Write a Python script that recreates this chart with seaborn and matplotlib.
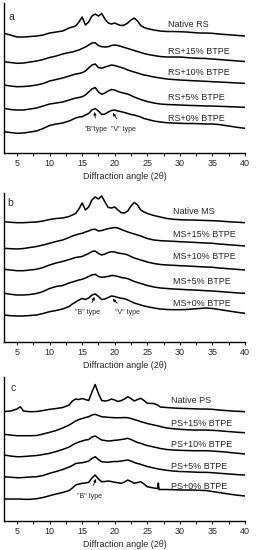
"""Stacked XRD patterns of RS, MS and PS starches with BTPE (three panels)."""

import matplotlib
matplotlib.use("Agg")
import matplotlib.pyplot as plt
import seaborn as sns

# 2-theta grid for panels a and b
two_theta = [3, 4, 5, 6, 7, 8, 9, 10, 11, 12, 13, 13.5, 14, 14.5, 15, 15.5, 16, 16.5,
             17, 17.5, 18, 18.5, 19, 19.5, 20, 20.5, 21, 21.5, 22, 22.5, 23, 23.5, 24,
             24.5, 25, 26, 27, 28, 29, 30, 31, 32, 33, 34, 35, 36, 37, 38, 39, 40]

# panel c needs a few extra points (5.5 deg peak, spike near 26.7 deg)
two_theta_c = [3, 4, 5, 5.5, 6, 7, 8, 9, 10, 11, 12, 13, 13.5, 14, 14.5, 15, 15.5, 16,
               16.5, 17, 17.5, 18, 18.5, 19, 19.5, 20, 20.5, 21, 21.5, 22, 22.5, 23,
               23.5, 24, 24.5, 25, 26, 26.6, 26.7, 26.8, 27, 28, 29, 30, 31, 32, 33, 34,
               35, 36, 37, 38, 39, 40]

# ---- panel a: RS (stacked intensities, a.u.)
rs_native = [119.7, 118, 116, 116, 116.5, 117, 118, 120, 121, 122, 125, 126, 127, 131,
             136, 128, 131, 137, 139, 137, 139.5, 134, 130, 129, 130, 128.5, 127.5, 128,
             130, 133, 135, 132, 127.5, 125.5, 124.5, 123, 122, 121.5, 121.5, 121.3, 121,
             120.5, 120, 120, 119.7, 119, 118.5, 118, 117.5, 117]
rs_15 = [91.3, 90.5, 89.7, 90, 91, 92, 93.5, 95.5, 97, 99, 100.5, 101, 102, 103, 104.5,
         106, 108, 110, 110.3, 107.5, 106.3, 106, 106.3, 107.5, 108, 107.5, 106.5, 105.5,
         104.5, 103.5, 102.5, 101.5, 100.5, 99.5, 98.7, 97.5, 96.5, 96, 96, 96, 95.5, 95,
         94.7, 94.5, 94, 93.5, 93, 92.5, 92, 91.5]
rs_10 = [68, 67, 66.3, 66.5, 67, 68, 69.5, 72, 73.5, 75, 77, 78, 79, 79.5, 80.3, 82, 85,
         88, 89, 85.5, 84.7, 86, 87, 88, 87.5, 86.5, 85.5, 84.5, 83, 82, 81, 80, 79, 78,
         77.5, 76, 75, 74, 73.5, 73, 72.7, 72.3, 72, 71.7, 71.3, 71, 70.7, 70.3, 70, 69.7]
rs_5 = [44.7, 43.5, 43, 43, 44, 45, 47, 49, 50, 51, 53, 54, 55, 55.5, 56.3, 58, 61, 64,
        65.5, 61, 58.7, 60, 62, 63.5, 63, 61.5, 60.5, 59.7, 59, 57.5, 56, 54.7, 53.5,
        52.5, 51.5, 50, 49, 48.5, 48.3, 48, 47.7, 47.5, 47.3, 47, 47, 46.7, 46.5, 46.2,
        46, 45.7]
rs_0 = [21.3, 20.5, 19.7, 20, 21, 22, 24.5, 27.5, 29, 30, 32, 33.5, 35, 36, 36.3, 38,
        39.5, 43, 44.5, 42, 38.5, 39, 41, 42.5, 43, 42, 41.3, 40.5, 39.5, 38.5, 38, 37,
        36, 34.5, 33.7, 32, 31, 30.3, 30, 29.7, 29.5, 29.5, 29.3, 29, 29, 28.5, 27.5,
        26.5, 25.5, 24.7]

# ---- panel b: MS
ms_native = [120.3, 119.7, 119.3, 119.3, 119.7, 120, 121, 122.5, 123.5, 124, 125.5, 127,
             128.5, 133, 139, 132, 135, 142, 145, 143, 146, 140, 134.5, 134, 135, 132,
             129.3, 129, 131, 136, 139.5, 137, 132, 130, 128.5, 126.5, 125, 123.5, 122.7,
             122.3, 122, 122, 121.7, 121.5, 121.3, 121, 120.5, 120, 119.7, 119.3]
ms_15 = [93.7, 93.3, 93, 93.5, 94.5, 95.5, 97, 98.7, 100.5, 102, 104.5, 106, 107, 108,
         108.7, 110, 111, 112.5, 112.7, 111, 111.5, 112.5, 113.3, 114, 114.5, 114, 112.5,
         111.3, 110, 109, 108, 107, 106, 104.7, 103.5, 102, 101.3, 101, 100.7, 100.3, 100,
         99.7, 99.3, 99, 98.7, 98, 97.5, 97, 96.5, 96]
ms_10 = [72.7, 72, 71.3, 71.3, 72, 72.7, 74.5, 77, 79, 80.5, 82.5, 83.5, 84.5, 85, 85.5,
         87, 88.5, 90.5, 91, 88.5, 87, 88, 89.5, 90.3, 90, 89, 88.5, 88, 87, 85.5, 84, 83,
         82, 81, 80, 78.5, 77.5, 77, 76.7, 76.3, 76, 75.7, 75.3, 75, 74.7, 74, 73.5, 73,
         72.5, 72]
ms_5 = [48.7, 47.7, 47, 47, 47.5, 48.5, 50.5, 53.5, 55.5, 56.5, 59, 60, 61, 62, 62.7, 64,
        65.5, 67, 67.7, 65.5, 64.7, 65, 65.7, 66.5, 66.3, 65.5, 64.5, 64, 63.3, 62, 60.5,
        59.5, 58.5, 57.5, 56.5, 55, 54, 53.5, 53, 52.7, 52.3, 52, 51.7, 51.3, 51, 50.5,
        50, 49.5, 49, 48.7]
ms_0 = [27, 26.3, 26, 26, 26.5, 27, 28.5, 30.3, 31.5, 33, 35.5, 38, 40, 42, 43.5, 42.5,
        44, 47, 48, 45.5, 42.5, 43, 44.5, 46, 45.5, 44.5, 43.7, 43.3, 42, 40.5, 39, 38,
        37, 36, 35.3, 34, 33, 32.5, 32.3, 32.3, 32.5, 33, 33.5, 34, 33.5, 32.5, 31.5,
        30.5, 29.5, 28.7]

# ---- panel c: PS
ps_native = [109.5, 110, 112, 114.3, 110, 109.3, 109.5, 110.5, 111.7, 112.5, 113.5, 116,
             120, 122, 121.5, 122.5, 121.5, 120.5, 129, 136.5, 127.5, 120.5, 120, 120.5,
             122, 121, 119.5, 120.5, 122, 124.3, 122.5, 120, 121.5, 122.7, 120.5, 117.7,
             117.5, 116, 115.5, 115, 114, 113.5, 113, 112.7, 112.5, 112.3, 112, 112,
             111.7, 111, 110.5, 110, 109.7, 109.3]
ps_15 = [86.7, 86, 85.3, 85.3, 85.3, 85.3, 85.5, 87, 88.7, 90.5, 93, 96, 98, 100, 101.5,
         102.5, 103.5, 104.3, 106, 106.7, 105.5, 104.3, 104, 103.7, 103.5, 103.3, 103.3,
         103.3, 103.5, 103.3, 102.5, 101.5, 100.5, 99.3, 98.5, 97.5, 96, 95.2, 95, 94.8,
         94.5, 93, 92.3, 91.7, 91.3, 91, 91, 91, 90.7, 90.3, 89.7, 89.2, 88.7, 88.3]
ps_10 = [66, 65, 64.3, 64.3, 64.5, 65, 65.5, 66.5, 67.7, 69.5, 71.5, 74, 76, 77.7, 79, 80,
         81, 81.5, 84, 85, 83, 81, 80.5, 80, 80.3, 80.7, 81, 81.5, 82, 82.7, 81.5, 80,
         78.5, 77.7, 76.5, 75.5, 74, 73.2, 73, 72.8, 72.5, 71.5, 71, 70.7, 70.5, 70.3,
         70.3, 70.3, 70, 69.5, 69, 68.3, 67.7, 67]
ps_5 = [44.3, 43.8, 43.3, 43.3, 43.5, 44, 44.3, 45.5, 47.7, 49.5, 51.5, 54, 55.5, 57.5, 58,
        58.3, 59, 60, 62.5, 64.3, 61.5, 59.3, 59, 58.7, 59.3, 59.5, 59.5, 60, 60.5, 61,
        60, 58.5, 57.5, 56.7, 55.5, 54.5, 53, 52.2, 52, 51.8, 51.7, 50.7, 50, 49.5, 49.3,
        49, 48.7, 48.7, 48.3, 47.8, 47.3, 46.8, 46.3, 46]
ps_0 = [22, 22, 22, 22, 21.7, 21.7, 22.3, 23.5, 25.3, 27, 28.5, 30.5, 33, 36, 37, 37.7,
        38, 38.7, 43, 46, 42, 39.3, 39.5, 40, 39.5, 38.7, 38.3, 37.7, 39, 41, 39.5, 37.7,
        38.5, 39.3, 37, 34.3, 33, 32.5, 38, 31.5, 31.5, 31.5, 31.3, 31, 31, 31, 30.7,
        30.5, 29.5, 28.5, 27.5, 26.5, 25.7, 25]

rs_labels = ["Native RS", "RS+15% BTPE", "RS+10% BTPE", "RS+5% BTPE", "RS+0% BTPE"]
ms_labels = ["Native MS", "MS+15% BTPE", "MS+10% BTPE", "MS+5% BTPE", "MS+0% BTPE"]
ps_labels = ["Native PS", "PS+15% BTPE", "PS+10% BTPE", "PS+5% BTPE", "PS+0% BTPE"]

sns.set_theme(style="ticks")
plt.rcParams["font.family"] = ["Liberation Sans", "DejaVu Sans"]

FS = 6.5


def draw_panel(ax, x, curves, labels, label_x, label_y, letter, letter_xy, ymax):
    for y in curves:
        sns.lineplot(x=x, y=y, ax=ax, color="black", linewidth=1.1)
    for text, ly in zip(labels, label_y):
        ax.text(label_x, ly, text, fontsize=FS, va="center", ha="left")
    ax.text(letter_xy[0], letter_xy[1], letter, fontsize=7.5, va="center", ha="center")
    ax.set_xlim(3, 40)
    ax.set_ylim(0, ymax)
    ax.set_yticks([])
    ax.set_xticks(range(5, 41, 5))
    ax.set_xticks([7.5 + 5 * i for i in range(7)], minor=True)
    ax.tick_params(axis="x", which="major", direction="out", length=2.5, width=0.8,
                   labelsize=FS, pad=2)
    ax.tick_params(axis="x", which="minor", direction="out", length=2, width=0.8)
    ax.set_xlabel("Diffraction angle (2θ)", fontsize=FS, labelpad=2.5)
    ax.set_ylabel("")
    sns.despine(ax=ax)
    for side in ("left", "bottom"):
        ax.spines[side].set_linewidth(1.0)
        ax.spines[side].set_color("black")


def annotate(ax, text, text_xy, tip_xy):
    ax.annotate(text, xy=tip_xy, xytext=text_xy, fontsize=5, ha="center", va="center",
                arrowprops=dict(arrowstyle="-|>", lw=0.6, color="black",
                                mutation_scale=4, shrinkA=3, shrinkB=0))


fig = plt.figure(figsize=(2.56, 5.5), dpi=100)
ax_a = fig.add_axes([0.0156, 0.7218, 0.9414, 0.2727])
ax_b = fig.add_axes([0.0156, 0.3782, 0.9414, 0.2709])
ax_c = fig.add_axes([0.0156, 0.0527, 0.9414, 0.2618])

draw_panel(ax_a, two_theta, [rs_native, rs_15, rs_10, rs_5, rs_0], rs_labels, 28.2,
           [129, 102, 81, 56, 35], "a", (4.2, 136), 150)
annotate(ax_a, '"B"type', (17.2, 24), (16.9, 41))
annotate(ax_a, '"V" type', (21.4, 24), (19.7, 40))

draw_panel(ax_b, two_theta, [ms_native, ms_15, ms_10, ms_5, ms_0], ms_labels, 29.0,
           [130, 107, 85, 60, 38], "b", (3.9, 139), 149)
annotate(ax_b, '"B" type', (15.8, 29), (16.9, 45))
annotate(ax_b, '"V" type', (21.9, 29), (19.7, 43))

draw_panel(ax_c, two_theta_c, [ps_native, ps_15, ps_10, ps_5, ps_0], ps_labels, 28.6,
           [121, 98, 77, 55, 35], "c", (4.4, 133), 144)
annotate(ax_c, '"B" type', (16.1, 25), (17.1, 42))

fig.savefig("out.png", dpi=100)
